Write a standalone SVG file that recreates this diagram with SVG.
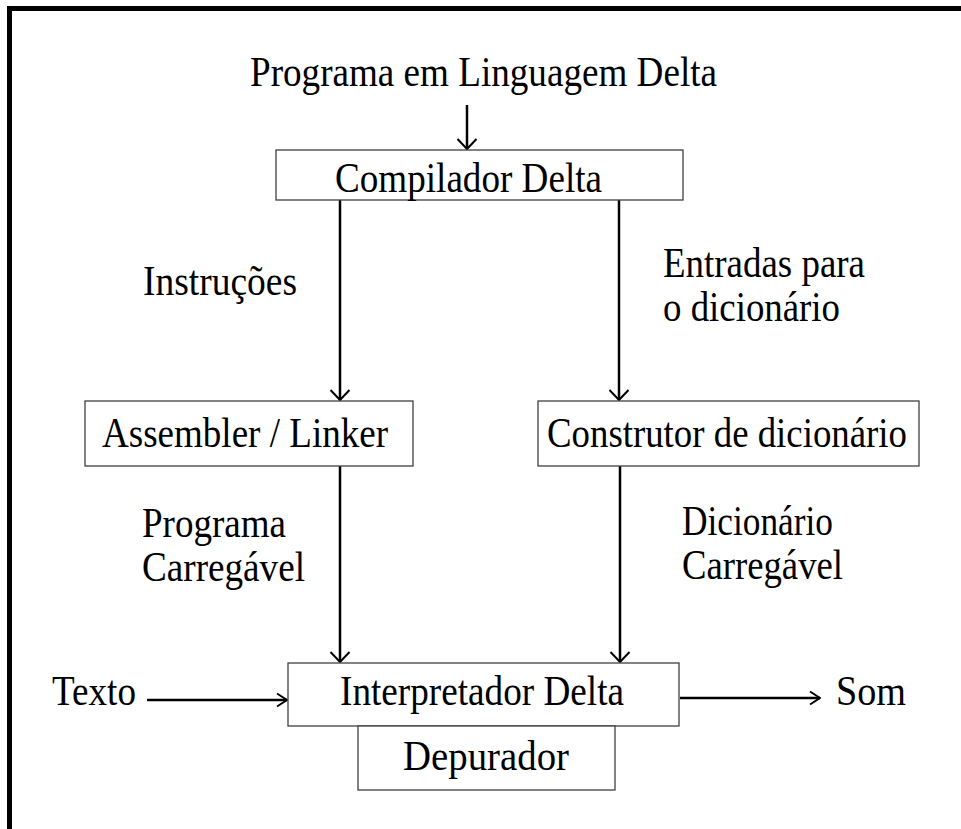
<svg xmlns="http://www.w3.org/2000/svg" width="961" height="829" viewBox="0 0 961 829">
<defs>
<style>
.box{fill:#fff;stroke:#404040;stroke-width:1.3}
.t{font-family:"Liberation Serif","Times New Roman",serif;font-size:42px;fill:#000}
.c{stroke:#000;stroke-width:2.5;fill:none}
</style>
<marker id="av" viewBox="0 0 12 22" refX="11" refY="11" markerWidth="12" markerHeight="22" markerUnits="userSpaceOnUse" orient="auto">
<path d="M1 1.5 L11 11 L1 20.5" fill="none" stroke="#000" stroke-width="2"/>
</marker>
<marker id="ah" viewBox="0 0 12 16" refX="11" refY="8" markerWidth="12" markerHeight="16" markerUnits="userSpaceOnUse" orient="auto">
<path d="M1 1.5 L11 8 L1 14.5" fill="none" stroke="#000" stroke-width="2"/>
</marker>
</defs>
<rect width="961" height="829" fill="#fff"/>
<path d="M9.5 829 V8.5 H961" fill="none" stroke="#000" stroke-width="5"/>
<text class="t" x="250" y="86" textLength="467" lengthAdjust="spacingAndGlyphs">Programa em Linguagem Delta</text>
<g id="connectors">
<line class="c" x1="467" y1="105" x2="467" y2="149" marker-end="url(#av)"/>
<line class="c" x1="340" y1="200" x2="340" y2="400" marker-end="url(#av)"/>
<line class="c" x1="619" y1="200" x2="619" y2="400" marker-end="url(#av)"/>
<line class="c" x1="340" y1="466" x2="340" y2="662" marker-end="url(#av)"/>
<line class="c" x1="620" y1="466" x2="620" y2="662" marker-end="url(#av)"/>
<line class="c" x1="147" y1="700" x2="287" y2="700" marker-end="url(#ah)"/>
<line class="c" x1="680" y1="698" x2="820" y2="698" marker-end="url(#ah)"/>
<text class="t" x="143" y="295" textLength="154" lengthAdjust="spacingAndGlyphs">Instruções</text>
<text class="t" x="663" y="277" textLength="202" lengthAdjust="spacingAndGlyphs">Entradas para</text>
<text class="t" x="663" y="321" textLength="177" lengthAdjust="spacingAndGlyphs">o dicionário</text>
<text class="t" x="142" y="537" textLength="144" lengthAdjust="spacingAndGlyphs">Programa</text>
<text class="t" x="142" y="581" textLength="163" lengthAdjust="spacingAndGlyphs">Carregável</text>
<text class="t" x="682" y="535" textLength="151" lengthAdjust="spacingAndGlyphs">Dicionário</text>
<text class="t" x="682" y="579" textLength="161" lengthAdjust="spacingAndGlyphs">Carregável</text>
<text class="t" x="52" y="705" textLength="84" lengthAdjust="spacingAndGlyphs">Texto</text>
<text class="t" x="836" y="705" textLength="70" lengthAdjust="spacingAndGlyphs">Som</text>
</g>
<g id="compilador">
<rect class="box" x="276" y="150" width="407" height="50"/>
<text class="t" x="335" y="192" textLength="267" lengthAdjust="spacingAndGlyphs">Compilador Delta</text>
</g>
<g id="assembler">
<rect class="box" x="85" y="401" width="328" height="65"/>
<text class="t" x="102" y="447" textLength="286" lengthAdjust="spacingAndGlyphs">Assembler / Linker</text>
</g>
<g id="construtor">
<rect class="box" x="538" y="401" width="381" height="65"/>
<text class="t" x="547" y="447" textLength="360" lengthAdjust="spacingAndGlyphs">Construtor de dicionário</text>
</g>
<g id="interpretador">
<rect class="box" x="288" y="663" width="391" height="63"/>
<text class="t" x="340" y="705" textLength="284" lengthAdjust="spacingAndGlyphs">Interpretador Delta</text>
</g>
<g id="depurador">
<rect class="box" x="358" y="726" width="257" height="64"/>
<text class="t" x="403" y="770" textLength="166" lengthAdjust="spacingAndGlyphs">Depurador</text>
</g>
</svg>
